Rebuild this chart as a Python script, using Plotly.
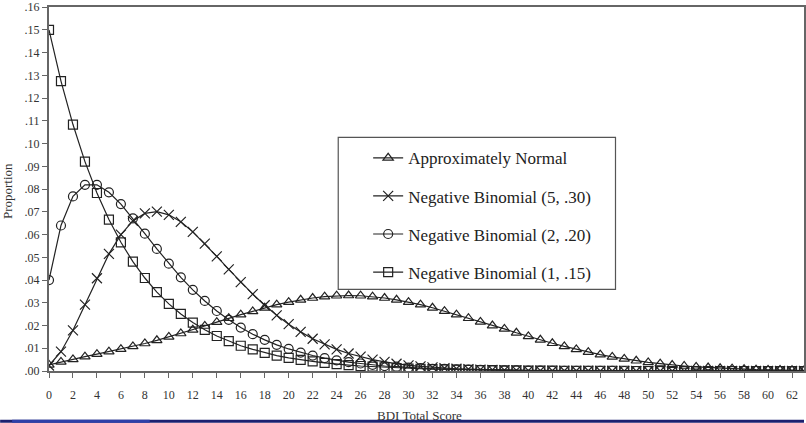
import plotly.graph_objects as go

scores = list(range(64))

approx_normal = [
    .0027, .0040, .0051, .0063, .0074, .0085, .0096, .0108, .0121, .0135,
    .0150, .0165, .0181, .0198, .0215, .0232, .0248, .0262, .0278, .0292,
    .0303, .0313, .0321, .0327, .0331, .0332, .0331, .0327, .0321, .0313,
    .0303, .0292, .0278, .0263, .0248, .0232, .0216, .0200, .0185, .0168,
    .0152, .0137, .0122, .0108, .0095, .0083, .0072, .0062, .0053, .0045,
    .0038, .0032, .0026, .0022, .0018, .0015, .0012, .0010, .0008, .0006,
    .0005, .0004, .0003, .0002,
]

nb_5_30 = [
    .0024, .0085, .0179, .0292, .0408, .0515, .0600, .0660, .0693, .0701,
    .0687, .0656, .0612, .0560, .0504, .0447, .0391, .0338, .0289, .0245,
    .0206, .0172, .0142, .0117, .0095, .0077, .0063, .0050, .0040, .0032,
    .0025, .0020, .0016, .0012, .0010, .0008, .0006, .0005, .0004, .0003,
    .0002, .0002, .0001, .0001, .0001, .0001, .0000, .0000, .0000, .0000,
    .0000, .0000, .0000, .0000, .0000, .0000, .0000, .0000, .0000, .0000,
    .0000, .0000, .0000, .0000,
]

nb_2_20 = [
    .0400, .0640, .0768, .0819, .0819, .0786, .0734, .0671, .0604, .0537,
    .0472, .0412, .0357, .0308, .0264, .0225, .0191, .0162, .0137, .0115,
    .0097, .0081, .0068, .0057, .0047, .0039, .0033, .0027, .0022, .0019,
    .0015, .0013, .0010, .0009, .0007, .0006, .0005, .0004, .0003, .0003,
    .0002, .0002, .0001, .0001, .0001, .0001, .0001, .0001, .0000, .0000,
    .0000, .0000, .0000, .0000, .0000, .0000, .0000, .0000, .0000, .0000,
    .0000, .0000, .0000, .0000,
]

nb_1_15 = [
    .1500, .1275, .1084, .0921, .0783, .0666, .0566, .0481, .0409, .0347,
    .0295, .0251, .0213, .0181, .0154, .0131, .0111, .0095, .0080, .0068,
    .0058, .0049, .0042, .0036, .0030, .0026, .0022, .0019, .0016, .0013,
    .0011, .0010, .0008, .0007, .0006, .0005, .0004, .0004, .0003, .0003,
    .0002, .0002, .0002, .0001, .0001, .0001, .0001, .0001, .0001, .0000,
    .0000, .0000, .0000, .0000, .0000, .0000, .0000, .0000, .0000, .0000,
    .0000, .0000, .0000, .0000,
]

series_names = [
    "Approximately Normal",
    "Negative Binomial (5, .30)",
    "Negative Binomial (2, .20)",
    "Negative Binomial (1, .15)",
]
series_values = [approx_normal, nb_5_30, nb_2_20, nb_1_15]
series_symbols = ["triangle-up-open", "x-thin-open", "circle-open", "square-open"]
series_sizes = [9, 10, 9, 9]

x_tick_vals = list(range(0, 63, 2))
x_tick_text = [str(v) for v in x_tick_vals]
y_tick_vals = [i / 100 for i in range(17)]
y_tick_text = [".00", ".01", ".02", ".03", ".04", ".05", ".06", ".07", ".08",
               ".09", ".10", ".11", ".12", ".13", ".14", ".15", ".16"]

FONT = "Liberation Serif"
INK = "#222222"

fig = go.Figure()
for i, (name, vals, sym, sz) in enumerate(zip(series_names, series_values, series_symbols, series_sizes)):
    fig.add_trace(go.Scatter(
        x=scores, y=vals, name=name, mode="lines+markers",
        line=dict(color=INK, width=1.2),
        marker=dict(symbol=sym, size=sz, color=INK, line=dict(color=INK, width=1.2)),
        legendgroup=f"g{i}",
    ))

W, H = 806, 423
L, R, T, B = 49, 0, 5, 52
pw, ph = W - L - R, H - T - B

def px(xp):
    return (xp - L) / pw

def py(yp):
    return (H - B - yp) / ph

fig.update_layout(
    width=W, height=H,
    margin=dict(l=L, r=R, t=T, b=B),
    paper_bgcolor="white", plot_bgcolor="white",
    font=dict(family=FONT, color="#333333", size=12),
    showlegend=True,
    legend=dict(
        x=px(369), y=py(139), xanchor="left", yanchor="top",
        bgcolor="rgba(0,0,0,0)", borderwidth=0,
        font=dict(family=FONT, size=17, color="#222222"),
        traceorder="grouped", tracegroupgap=13,
    ),
    xaxis=dict(
        range=[0, 63], tickmode="array", tickvals=x_tick_vals, ticktext=x_tick_text,
        ticks="outside", ticklen=5, tickcolor="#666666", tickwidth=1,
        showline=True, linecolor="#666666", linewidth=2, mirror=True,
        showgrid=False, zeroline=False, ticklabelstandoff=7,
        tickfont=dict(family=FONT, size=12, color="#333333"),
    ),
    yaxis=dict(
        range=[0, 0.1601], tickmode="array", tickvals=y_tick_vals, ticktext=y_tick_text,
        ticks="outside", ticklen=5, tickcolor="#666666", tickwidth=1,
        showline=True, linecolor="#666666", linewidth=2, mirror=True,
        showgrid=False, zeroline=False, ticklabeloverflow="allow",
        tickfont=dict(family=FONT, size=12, color="#333333"),
    ),
    shapes=[
        dict(type="rect", xref="paper", yref="paper",
             x0=px(339), x1=px(617), y0=py(289), y1=py(136),
             line=dict(color="#555555", width=1.2), fillcolor="rgba(0,0,0,0)"),
        dict(type="rect", xref="paper", yref="paper",
             x0=px(0), x1=px(806), y0=py(423), y1=py(420),
             line=dict(width=0), fillcolor="#1c2070", layer="above"),
        dict(type="rect", xref="paper", yref="paper",
             x0=px(12), x1=px(150), y0=py(423), y1=py(420),
             line=dict(width=0), fillcolor="#2e3fa8", layer="above"),
    ],
    annotations=[
        dict(text="BDI Total Score", xref="paper", yref="paper",
             x=px(420), y=py(416), xanchor="center", yanchor="middle",
             showarrow=False, font=dict(family=FONT, size=13, color="#333333")),
        dict(text="Proportion", xref="paper", yref="paper",
             x=px(8), y=py(190), xanchor="center", yanchor="middle",
             textangle=-90, showarrow=False,
             font=dict(family=FONT, size=13, color="#333333")),
    ],
)

fig.write_html("out.html")
